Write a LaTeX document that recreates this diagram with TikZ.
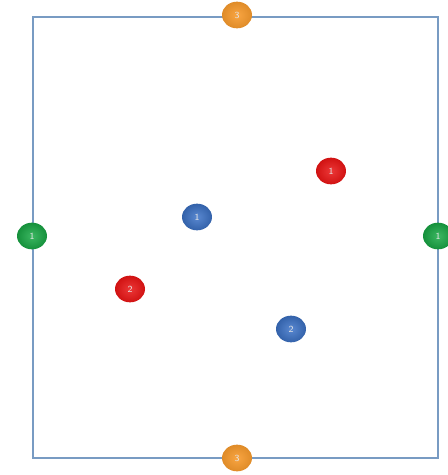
\documentclass[tikz,border=0pt]{standalone}
\usetikzlibrary{shapes.geometric}
\definecolor{frame}{RGB}{120,155,195}
\definecolor{ballred}{RGB}{232,20,20}
\definecolor{ballblue}{RGB}{60,115,200}
\definecolor{ballgreen}{RGB}{25,170,70}
\definecolor{ballorange}{RGB}{248,155,45}
\begin{document}
\begin{tikzpicture}[x=0.75pt,y=-0.75pt,
  ball/.style={ellipse,minimum width=22.5pt,minimum height=20pt,inner sep=0pt,
    text=white!80!gray,font=\sffamily\scriptsize},
  redb/.style={ball,inner color=ballred!85!white,outer color=ballred!90!black},
  blueb/.style={ball,inner color=ballblue!85!white,outer color=ballblue!85!black},
  greenb/.style={ball,inner color=ballgreen!85!white,outer color=ballgreen!85!black},
  orangeb/.style={ball,inner color=ballorange!90!white,outer color=ballorange!90!black}]
\useasboundingbox (0,0) rectangle (448,475);
\draw[frame,line width=0.8pt] (33,17) rectangle (438,458);
\node[orangeb] (ot) at (237,15) {3};
\node[orangeb] (ob) at (237,458) {3};
\node[greenb] (gl) at (32,236) {1};
\node[greenb] (gr) at (438,236) {1};
\node[blueb] (b1) at (197,217) {1};
\node[redb] (r1) at (331,171) {1};
\node[redb] (r2) at (130,289) {2};
\node[blueb] (b2) at (291,329) {2};
\end{tikzpicture}
\end{document}
